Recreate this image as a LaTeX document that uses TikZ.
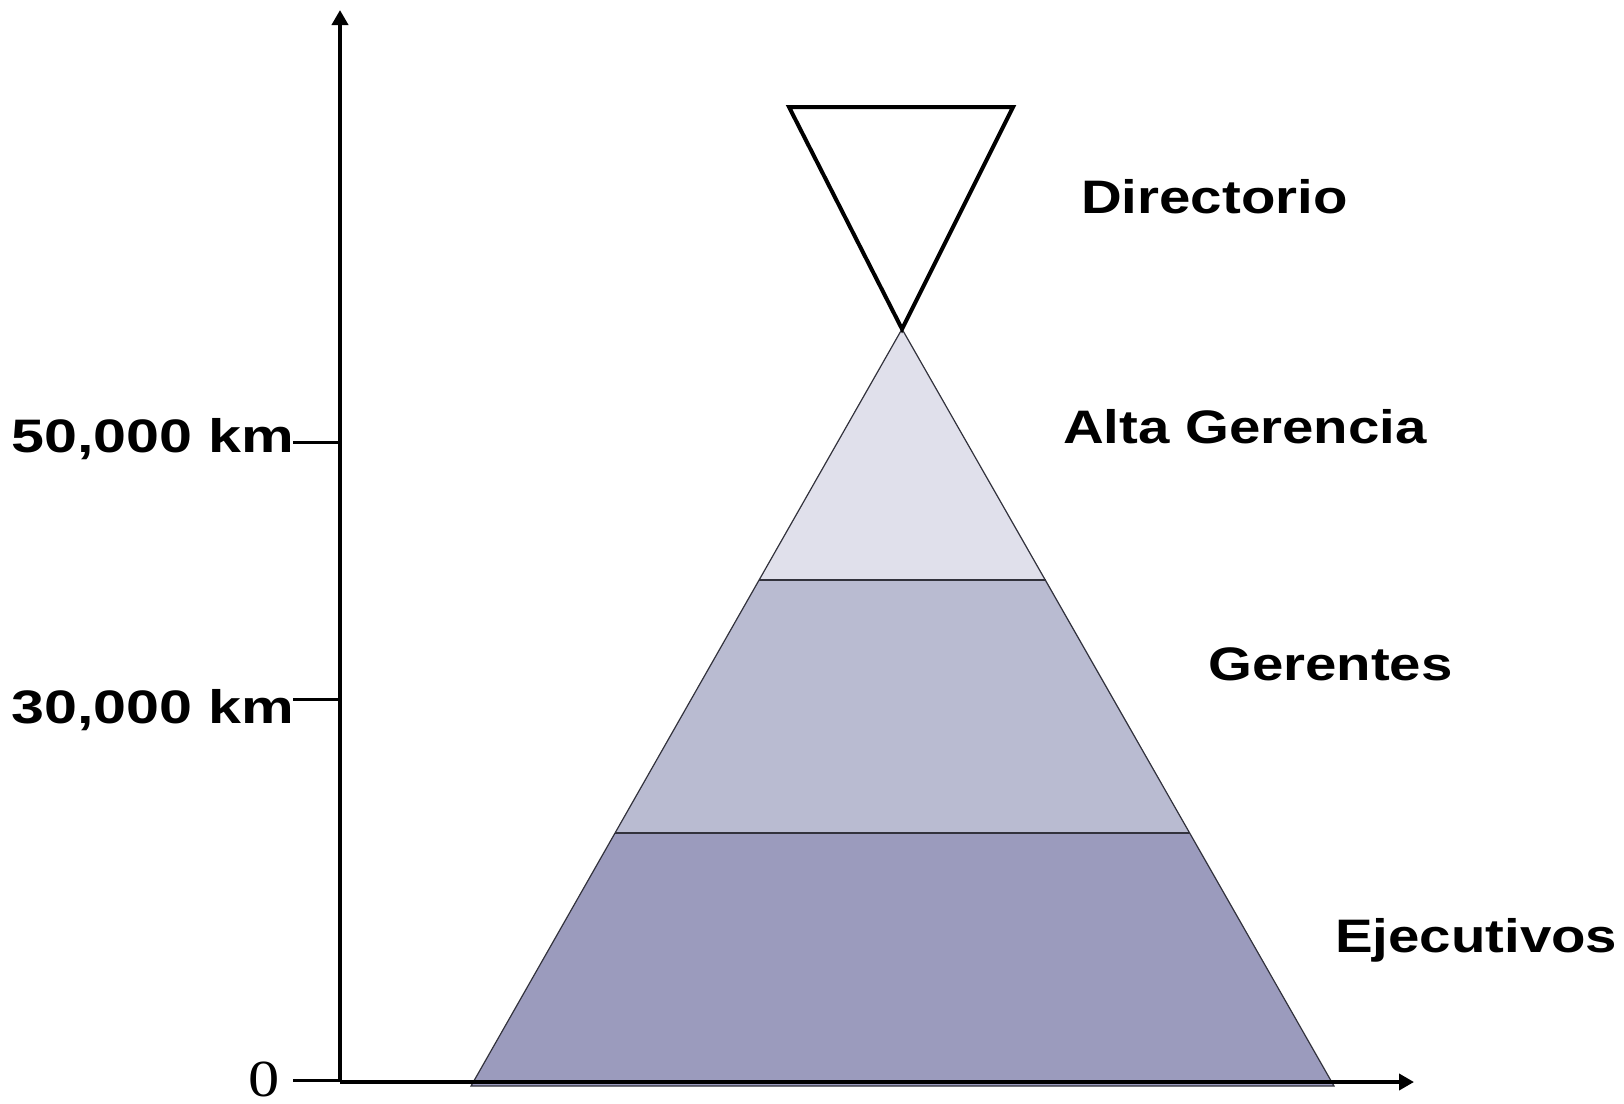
\documentclass[tikz,border=0pt]{standalone}
\usepackage{fontspec}
\usetikzlibrary{arrows.meta}
\newfontfamily\labfont{Liberation Sans}[FakeStretch=1.2]
\newfontfamily\axlabfont{Liberation Sans}[FakeStretch=1.26]
\newfontfamily\numfont{Liberation Serif}[FakeStretch=1.2]
\definecolor{bandA}{RGB}{224,224,235}
\definecolor{bandB}{RGB}{185,187,209}
\definecolor{bandC}{RGB}{155,155,189}
\definecolor{edgegray}{RGB}{50,50,60}
\tikzset{
  lab/.style={anchor=base west, inner sep=0pt, font=\labfont\bfseries\fontsize{47}{50}\selectfont},
  axlab/.style={anchor=base west, inner sep=0pt, font=\axlabfont\bfseries\fontsize{47}{50}\selectfont},
  zerolab/.style={anchor=base west, inner sep=0pt, font=\numfont\fontsize{52}{56}\selectfont},
  axisline/.style={line width=4pt, -{Triangle[length=15pt,width=16pt]}},
  tickline/.style={line width=3pt},
  band/.style={draw=edgegray, line width=1.2pt},
}
\begin{document}
\begin{tikzpicture}[x=1pt,y=-1pt]
\useasboundingbox (0,0) rectangle (1624,1103);
% pyramid coordinates
\coordinate (apex) at (902,329);
\coordinate (bl) at (471,1086);
\coordinate (br) at (1334,1086);
\coordinate (m1l) at (759,580);
\coordinate (m1r) at (1046,580);
\coordinate (m2l) at (615,833);
\coordinate (m2r) at (1190,833);
% bands
\fill[bandC] (m2l) -- (m2r) -- (br) -- (bl) -- cycle;
\fill[bandB] (m1l) -- (m1r) -- (m2r) -- (m2l) -- cycle;
\fill[bandA] (apex) -- (m1r) -- (m1l) -- cycle;
\draw[band] (apex) -- (br) -- (bl) -- cycle;
\draw[band] (m1l) -- (m1r);
\draw[band] (m2l) -- (m2r);
% inverted triangle
\coordinate (tl) at (789,107);
\coordinate (tr) at (1013,107);
\draw[line width=4pt, line join=miter] (tl) -- (tr) -- (apex) -- cycle;
% axes
\coordinate (origin) at (340,1082);
\coordinate (ytop) at (340,10);
\coordinate (xend) at (1414,1082);
\draw[axisline] (origin) -- (ytop);
\draw[axisline] (origin) -- (xend);
% ticks
\coordinate (t50) at (340,442);
\coordinate (t50l) at (293,442);
\coordinate (t30) at (340,699);
\coordinate (t30l) at (293,699);
\coordinate (t0) at (340,1080);
\coordinate (t0l) at (293,1080);
\draw[tickline] (t50l) -- (t50);
\draw[tickline] (t30l) -- (t30);
\draw[tickline] (t0l) -- (t0);
% labels
\node[axlab] (l50) at (11,452) {50,000 km};
\node[axlab] (l30) at (11,723) {30,000 km};
\node[zerolab] (l0) at (248,1096) {0};
\node[lab] (dir) at (1081,213) {Directorio};
\node[lab] (alta) at (1063,443) {Alta Gerencia};
\node[lab] (ger) at (1208,680) {Gerentes};
\node[lab] (eje) at (1335,952) {Ejecutivos};
\end{tikzpicture}
\end{document}
